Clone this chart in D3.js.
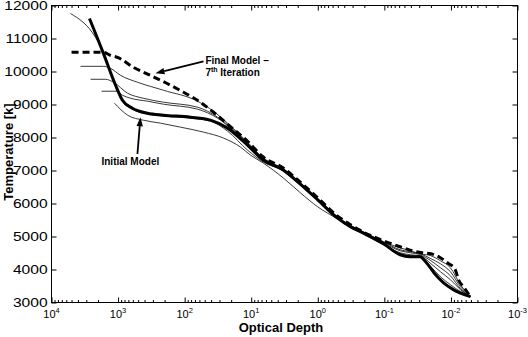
<!DOCTYPE html>
<html><head><meta charset="utf-8">
<script src="https://cdn.jsdelivr.net/npm/d3@7"></script>
<style>
html,body{margin:0;padding:0;background:#fff;}
svg{display:block;font-family:"Liberation Sans",Arial,Helvetica,sans-serif;}
</style></head><body>
<svg id="chart" width="528" height="337"></svg>
<script>
// ---- data (optical depth tau, temperature K) ----
const xTickExponents = [4, 3, 2, 1, 0, -1, -2, -3];
const yTicks = [3000, 4000, 5000, 6000, 7000, 8000, 9000, 10000, 11000, 12000];

const initialModel = [[2690,11607],[1660,10550],[1090,9583],[860,9130],[610,8888],[362,8737],[208,8677],[82,8616],[41,8526],[22.7,8284],[11.4,7771],[6.6,7317],[3.3,7015],[2.0,6653],[1.0,6109],[0.51,5565],[0.32,5293],[0.21,5112],[0.103,4780],[0.058,4447],[0.041,4387],[0.029,4387],[0.024,4236],[0.018,3904],[0.013,3602],[0.0092,3390],[0.0051,3179]];

const finalModel = [[5000,10580],[1660,10580],[1300,10489],[1020,10429],[587,10127],[330,9885],[163,9583],[104,9372],[58,9070],[37,8768],[22.7,8405],[11.4,7891],[6.6,7408],[3.3,7076],[2.0,6713],[1.0,6170],[0.51,5626],[0.32,5354],[0.21,5142],[0.103,4870],[0.058,4689],[0.038,4568],[0.027,4508],[0.020,4478],[0.0144,4357],[0.0113,4206],[0.0086,3995],[0.0077,3692],[0.0065,3481],[0.0051,3179]];

const iterationA = [[5190,11758],[2180,11033],[1770,10701],[1300,9976],[1090,9553],[860,9100],[610,8858],[362,8707],[208,8647],[82,8586],[41,8496],[22.7,8194],[11.4,7620],[6.6,7257],[3.3,6985],[2.0,6623],[1.0,6079],[0.51,5565],[0.32,5293],[0.21,5112],[0.103,4780],[0.058,4478],[0.041,4417],[0.029,4387],[0.020,4085],[0.0144,3783],[0.0102,3541],[0.0072,3330],[0.0051,3179]];

const iterationB = [[3670,10157],[1660,10157],[1300,10097],[920,9885],[510,9674],[208,9432],[64,9100],[37,8798],[22.7,8435],[11.4,7861],[6.6,7378],[3.3,7046],[2.0,6683],[1.0,6139],[0.51,5595],[0.32,5324],[0.21,5142],[0.103,4840],[0.058,4659],[0.041,4568],[0.029,4478],[0.020,4417],[0.0144,4266],[0.0102,4055],[0.0072,3541],[0.0051,3179]];

const iterationC = [[2590,9764],[1550,9764],[1170,9674],[720,9342],[420,9190],[208,9070],[64,8919],[32,8616],[20.5,8314],[11.4,7831],[6.6,7348],[3.3,7046],[2.0,6683],[1.0,6139],[0.51,5595],[0.32,5324],[0.21,5142],[0.103,4840],[0.058,4599],[0.041,4538],[0.029,4478],[0.020,4327],[0.0144,4176],[0.0102,3934],[0.0072,3481],[0.0051,3179]];

const iterationD = [[1770,9402],[1060,9402],[860,9281],[650,9190],[362,9100],[208,9009],[64,8858],[32,8586],[20.5,8284],[11.4,7801],[6.6,7348],[3.3,7015],[2.0,6653],[1.0,6139],[0.51,5595],[0.32,5324],[0.21,5112],[0.103,4810],[0.058,4568],[0.041,4508],[0.029,4447],[0.020,4266],[0.0144,4055],[0.0102,3813],[0.0072,3420],[0.0051,3179]];

const iterationE = [[1130,9039],[720,8677],[420,8526],[230,8435],[116,8314],[52,8163],[26,7982],[14.5,7710],[10.3,7468],[6.6,7227],[3.3,6774],[1.82,6321],[1.0,5898],[0.51,5535],[0.32,5293],[0.21,5082],[0.103,4750],[0.058,4508],[0.041,4447],[0.029,4417],[0.020,4176],[0.0144,3934],[0.0102,3692],[0.0072,3390],[0.0051,3179]];

// annotations (data coordinates)
const finalLabel = {tau: 48.8, temp: 10233, line1: "Final Model \u2013", line2temp: 9855};
const finalArrow = {from: [52, 10308], to: [274, 9946]};
const initialLabel = {tau: 1775, temp: 7166, text: "Initial Model"};
const initialArrow = {from: [512, 7499], to: [461, 8616]};

// ---- layout ----
const svg = d3.select("#chart");
const X0 = 51.5, X1 = 517.5, Y0 = 302.5, Y1 = 5.5;
const x = d3.scaleLog().domain([1e4, 1e-3]).range([X0, X1]);
const y = d3.scaleLinear().domain([3000, 12000]).range([Y0, Y1]);

const majors = xTickExponents.map(e => Math.pow(10, e));
const minors = [];
for (let e = -3; e < 4; e++) for (let m = 2; m <= 9; m++) minors.push(m * Math.pow(10, e));

function styleAxis(g) {
  g.select(".domain").remove();
  g.selectAll(".tick line").attr("stroke", "#000").attr("stroke-width", 1);
}

// bottom & top axes
svg.append("g").attr("transform", `translate(0,${Y0})`)
  .call(d3.axisBottom(x).tickValues(majors).tickSizeInner(-5).tickSizeOuter(0).tickFormat(() => ""))
  .call(styleAxis);
svg.append("g").attr("transform", `translate(0,${Y0})`)
  .call(d3.axisBottom(x).tickValues(minors).tickSizeInner(-2.5).tickSizeOuter(0).tickFormat(() => ""))
  .call(styleAxis);
svg.append("g").attr("transform", `translate(0,${Y1})`)
  .call(d3.axisTop(x).tickValues(majors).tickSizeInner(-5).tickSizeOuter(0).tickFormat(() => ""))
  .call(styleAxis);
svg.append("g").attr("transform", `translate(0,${Y1})`)
  .call(d3.axisTop(x).tickValues(minors).tickSizeInner(-2.5).tickSizeOuter(0).tickFormat(() => ""))
  .call(styleAxis);

// left & right axes
const leftAxis = svg.append("g").attr("transform", `translate(${X0},0)`)
  .call(d3.axisLeft(y).tickValues(yTicks).tickSizeInner(-5).tickSizeOuter(0).tickPadding(3).tickFormat(d3.format("d")))
  .call(styleAxis);
leftAxis.selectAll("text")
  .attr("font-size", 12).attr("font-family", "Liberation Sans, Arial, sans-serif")
  .attr("fill", "#000").attr("transform", "scale(1.3,1)");
svg.append("g").attr("transform", `translate(${X1},0)`)
  .call(d3.axisRight(y).tickValues(yTicks).tickSizeInner(-5).tickSizeOuter(0).tickFormat(() => ""))
  .call(styleAxis);

// x tick labels with superscripts
const xl = svg.append("g").attr("font-size", 11).attr("fill", "#000");
xTickExponents.forEach(e => {
  const t = xl.append("text").attr("x", x(Math.pow(10, e))).attr("y", Y0 + 15.5).attr("text-anchor", "middle");
  t.append("tspan").text("10");
  t.append("tspan").attr("font-size", 7.5).attr("dy", -5).text(String(e));
});

// frame
svg.append("rect").attr("x", X0).attr("y", Y1).attr("width", X1 - X0).attr("height", Y0 - Y1)
  .attr("fill", "none").attr("stroke", "#000").attr("stroke-width", 1);

// axis titles
svg.append("text").attr("transform", `translate(12.5,152) rotate(-90)`)
  .attr("text-anchor", "middle").attr("font-size", 13).attr("font-weight", "bold").text("Temperature [k]");
svg.append("text").attr("x", 281).attr("y", 332)
  .attr("text-anchor", "middle").attr("font-size", 13).attr("font-weight", "bold").text("Optical Depth");

// ---- lines ----
const line = d3.line().x(d => x(d[0])).y(d => y(d[1])).curve(d3.curveMonotoneX);
const plot = svg.append("g");
[iterationA, iterationB, iterationC, iterationD, iterationE].forEach(s => {
  plot.append("path").attr("d", line(s)).attr("fill", "none").attr("stroke", "#222").attr("stroke-width", 0.9);
});
plot.append("path").attr("d", line(initialModel)).attr("fill", "none").attr("stroke", "#000").attr("stroke-width", 3);
plot.append("path").attr("d", line(finalModel)).attr("fill", "none").attr("stroke", "#000").attr("stroke-width", 3)
  .attr("stroke-dasharray", "7,4");

// ---- annotations ----
function arrow(a) {
  const x1 = x(a.from[0]), y1 = y(a.from[1]), x2 = x(a.to[0]), y2 = y(a.to[1]);
  const ang = Math.atan2(y2 - y1, x2 - x1);
  const L = 9, Wd = 3.2;
  const bx = x2 - L * Math.cos(ang), by = y2 - L * Math.sin(ang);
  svg.append("line").attr("x1", x1).attr("y1", y1).attr("x2", bx).attr("y2", by)
    .attr("stroke", "#000").attr("stroke-width", 1.8);
  const p = [[x2, y2],
    [bx + Wd * Math.sin(ang), by - Wd * Math.cos(ang)],
    [bx - Wd * Math.sin(ang), by + Wd * Math.cos(ang)]];
  svg.append("path").attr("d", "M" + p.map(q => q.join(",")).join("L") + "Z").attr("fill", "#000");
}
arrow(finalArrow);
arrow(initialArrow);

const ann = svg.append("g").attr("font-size", 10).attr("font-weight", "bold").attr("fill", "#000");
ann.append("text").attr("x", x(finalLabel.tau)).attr("y", y(finalLabel.temp)).text(finalLabel.line1);
const t2 = ann.append("text").attr("x", x(finalLabel.tau)).attr("y", y(finalLabel.line2temp));
t2.append("tspan").text("7");
t2.append("tspan").attr("font-size", 7).attr("dy", -4).text("th");
t2.append("tspan").attr("dy", 4).text(" Iteration");
ann.append("text").attr("x", x(initialLabel.tau)).attr("y", y(initialLabel.temp)).text(initialLabel.text);
</script>
</body></html>
